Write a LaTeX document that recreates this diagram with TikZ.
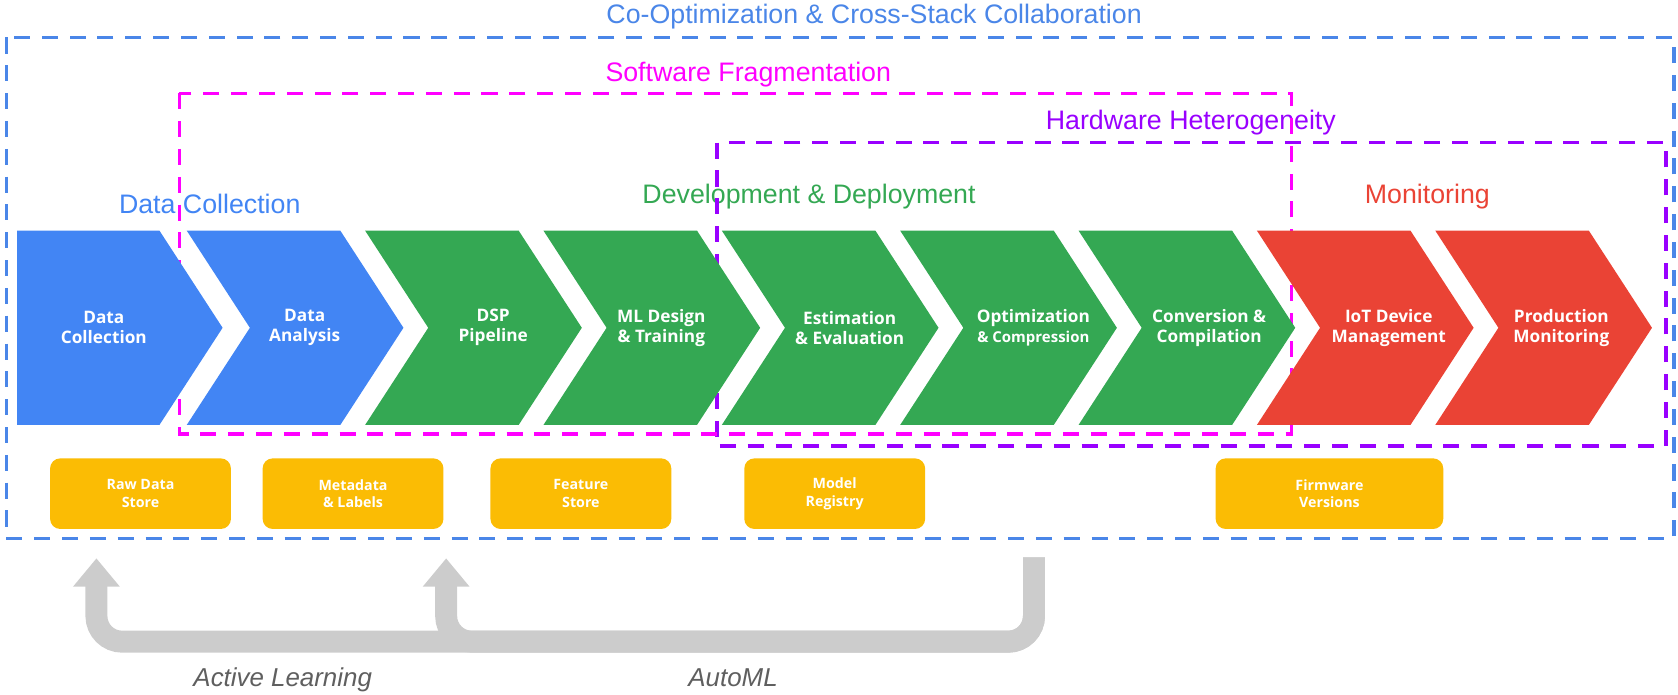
\documentclass[tikz,border=0pt]{standalone}
\usepackage{fontspec}
\setmainfont{Liberation Sans}
\newfontfamily\labelfont{Open Sans}
\usepackage{xcolor}
\usetikzlibrary{arrows.meta, positioning}

\definecolor{gblue}{HTML}{4285F4}
\definecolor{lblue}{HTML}{4A86E8}
\definecolor{ggreen}{HTML}{34A853}
\definecolor{gred}{HTML}{EA4335}
\definecolor{gyellow}{HTML}{FBBC04}
\definecolor{swpink}{HTML}{FF00FF}
\definecolor{hwpurple}{HTML}{9900FF}
\definecolor{loopgray}{HTML}{CCCCCC}
\definecolor{textgray}{HTML}{5F5F5F}

\tikzset{
    dashframe/.style={line width=3.3pt, dash pattern=on 15pt off 11pt},
    heading/.style={anchor=base, inner sep=0pt, font=\fontsize{25}{30}\selectfont},
    chevtext/.style={text=white, align=center, inner sep=0pt, font=\labelfont\bfseries\fontsize{16.1}{18.7}\selectfont},
    store/.style={fill=gyellow, rounded corners=9.5pt, minimum width=169pt, minimum height=66pt, text=white, align=center, font=\labelfont\bfseries\fontsize{13.3}{16.5}\selectfont},
    feedback/.style={loopgray, line width=20.5pt, rounded corners=24pt, -{Triangle[width=42pt,length=26.5pt]}},
    looplabel/.style={anchor=base, inner sep=0pt, text=textgray, font=\itshape\fontsize{24.2}{29}\selectfont}
}

\begin{document}
\begin{tikzpicture}[x=1pt, y=-1pt]
    \useasboundingbox (0,0) rectangle (1568,649);

    \node[heading, text=lblue] (coopt) at (816.8,21.6) {Co-Optimization \& Cross-Stack Collaboration};
    \node[heading, text=swpink] (swfrag) at (699.2,76.3) {Software Fragmentation};
    \node[heading, text=hwpurple] (hwhet) at (1112.8,120.8) {Hardware Heterogeneity};
    \node[heading, text=gblue] (dctitle) at (196,199.3) {Data Collection};
    \node[heading, text=ggreen] (devtitle) at (756,190) {Development \& Deployment};
    \node[heading, text=gred] (montitle) at (1333.8,190) {Monitoring};

    \draw[dashframe, lblue] (6,35) rectangle (1564,503);
    \draw[dashframe, hwpurple] (670,133.3) rectangle (1556.6,416.6);
    \draw[dashframe, swpink] (167.7,87.2) rectangle (1206.9,405.6);

    \fill[gblue] (16,215.5) -- (149,215.5) -- (208,306.3) -- (149,397.1) -- (16,397.1) -- cycle;
    \foreach \x/\c in {174.5/gblue, 341.17/ggreen, 507.83/ggreen, 674.5/ggreen, 841.17/ggreen, 1007.83/ggreen, 1174.5/gred, 1341.17/gred}
        \fill[\c] (\x,215.5) -- ++(143.5,0) -- ++(59,90.8) -- ++(-59,90.8) -- ++(-143.5,0) -- ++(59,-90.8) -- cycle;

    \node[chevtext] (collect) at (97,306.3) {Data\\Collection};
    \node[chevtext] (analysis) at (284.7,306.3) {Data\\Analysis};
    \node[chevtext] (dsp) at (460.9,306.3) {DSP\\Pipeline};
    \node[chevtext] (mldesign) at (618,306.3) {ML Design\\\& Training};
    \node[chevtext] (estim) at (794,306.3) {Estimation\\\& Evaluation};
    \node[chevtext] (optim) at (965.6,306.3) {Optimization\\{\fontsize{14}{18.7}\selectfont\& Compression}};
    \node[chevtext] (convert) at (1129.9,306.3) {Conversion \&\\Compilation};
    \node[chevtext] (iot) at (1297.7,306.3) {IoT Device\\Management};
    \node[chevtext] (prod) at (1459,306.3) {Production\\Monitoring};

    \node[store] (rawdata) at (131.3,461.3) {Raw Data\\Store};
    \node[store] (metadata) at (329.9,461.3) {Metadata\\\& Labels};
    \node[store] (features) at (542.8,461.3) {Feature\\Store};
    \node[store] (registry) at (780,461.3) {Model\\Registry};
    \node[store, minimum width=212.7pt] (firmware) at (1242.3,461.3) {Firmware\\Versions};

    \coordinate (automl) at (966.2,520.8);
    \coordinate (rawin) at (90.1,521.7);
    \coordinate (metain) at (416.9,521.7);
    \draw[feedback] (automl) -- ++(0,78.8) -| (rawin);
    \draw[feedback] (automl) -- ++(0,78.8) -| (metain);

    \node[looplabel] (active) at (264.2,641.6) {Active Learning};
    \node[looplabel] (autolabel) at (685,641.6) {AutoML};
\end{tikzpicture}
\end{document}
